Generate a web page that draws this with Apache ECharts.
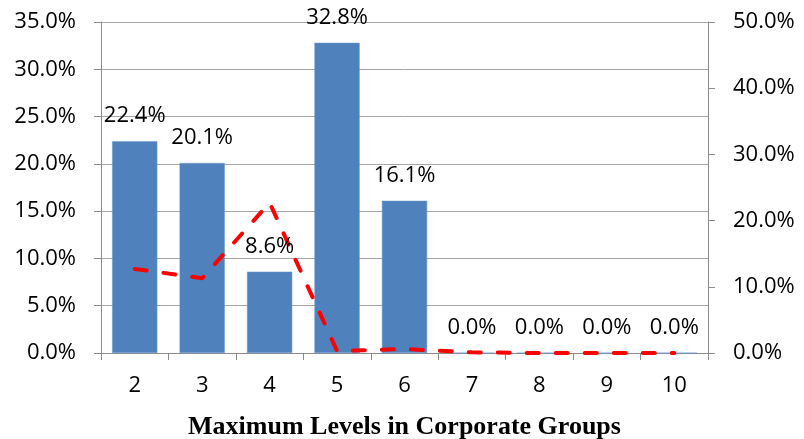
<!DOCTYPE html>
<html>
<head>
<meta charset="utf-8">
<script src="https://cdn.jsdelivr.net/npm/echarts@6/dist/echarts.min.js"></script>
<style>
  html, body { margin: 0; padding: 0; background: #ffffff; }
  #chart { width: 804px; height: 439px; }
</style>
</head>
<body>
<div id="chart"></div>
<script>
// Maximum hierarchy depth of corporate groups
const levels = ['2', '3', '4', '5', '6', '7', '8', '9', '10'];
// Share of groups by maximum level (left axis, %)
const groupShare = [22.4, 20.1, 8.6, 32.8, 16.1, 0.0, 0.0, 0.0, 0.0];
// Companion share plotted on the right axis (%)
const secondShare = [12.7, 11.3, 22.7, 0.3, 0.6, 0.1, 0.0, 0.0, 0.0];

const labelFont = '"Open Sans", "Noto Sans", sans-serif';
const axisGray = '#8c8c8c';
const pct = v => v.toFixed(1) + '%';

const chart = echarts.init(document.getElementById('chart'), null, { renderer: 'canvas' });

chart.setOption({
  animation: false,
  backgroundColor: '#ffffff',
  grid: {
    left: 101, right: 96, top: 22, bottom: 86,
    containLabel: false,
    outerBoundsMode: 'none'
  },
  xAxis: {
    type: 'category',
    data: levels,
    boundaryGap: true,
    name: 'Maximum Levels in Corporate Groups',
    nameLocation: 'middle',
    nameGap: 61,
    nameTextStyle: {
      fontFamily: '"Liberation Serif", "DejaVu Serif", serif',
      fontWeight: 'bold',
      fontSize: 26,
      color: '#000000'
    },
    axisLine: { show: true, lineStyle: { color: axisGray, width: 1 } },
    axisTick: { show: true, length: 7, alignWithLabel: false, lineStyle: { color: axisGray } },
    axisLabel: { fontFamily: labelFont, fontSize: 22, color: '#000000', margin: 22 },
    splitLine: { show: false }
  },
  yAxis: [
    {
      type: 'value',
      min: 0,
      max: 35,
      interval: 5,
      position: 'left',
      axisLine: { show: true, lineStyle: { color: axisGray, width: 1 } },
      axisTick: { show: true, length: 7, lineStyle: { color: axisGray } },
      axisLabel: { fontFamily: labelFont, fontSize: 22, color: '#000000', margin: 25, formatter: pct },
      splitLine: { show: true, lineStyle: { color: '#a6a6a6', width: 1 } }
    },
    {
      type: 'value',
      min: 0,
      max: 50,
      interval: 10,
      position: 'right',
      axisLine: { show: true, lineStyle: { color: axisGray, width: 1 } },
      axisTick: { show: true, length: 7, lineStyle: { color: axisGray } },
      axisLabel: { fontFamily: labelFont, fontSize: 22, color: '#000000', margin: 25, formatter: pct },
      splitLine: { show: false }
    }
  ],
  series: [
    {
      type: 'bar',
      data: groupShare,
      yAxisIndex: 0,
      barCategoryGap: '33%',
      barGap: '-100%',
      itemStyle: { color: '#4f81bd', borderColor: '#6b98cc', borderWidth: 0.5 },
      z: 2
    },
    {
      type: 'line',
      data: secondShare,
      yAxisIndex: 1,
      symbol: 'none',
      lineStyle: { color: '#ff0000', width: 4, type: [12, 17], cap: 'round', join: 'round' },
      z: 3
    },
    {
      // value labels for the bars, kept above the dashed line
      type: 'bar',
      data: groupShare,
      yAxisIndex: 0,
      barCategoryGap: '33%',
      barGap: '-100%',
      itemStyle: { color: 'rgba(0,0,0,0)' },
      silent: true,
      label: {
        show: true,
        position: 'top',
        distance: 14,
        fontFamily: labelFont,
        fontSize: 22,
        color: '#000000',
        formatter: p => pct(p.value)
      },
      z: 5
    }
  ]
});
</script>
</body>
</html>
